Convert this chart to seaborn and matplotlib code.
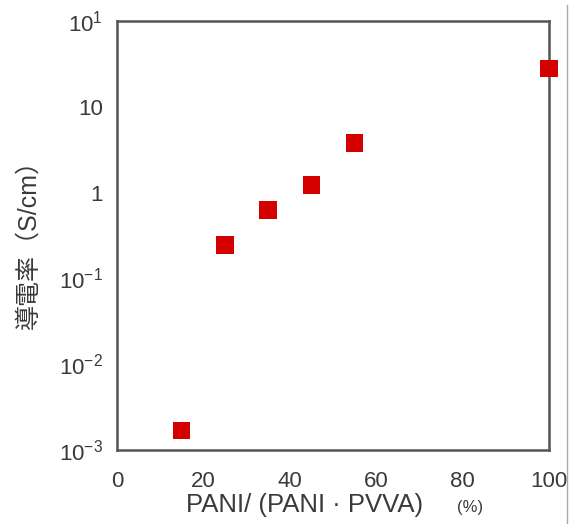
import matplotlib
matplotlib.use("Agg")
import matplotlib.pyplot as plt
import seaborn as sns
import pandas as pd

# PANI content (%) and conductivity (S/cm)
pani_pct = [15, 25, 35, 45, 55, 100]
conductivity = [0.0017, 0.245, 0.63, 1.23, 3.8, 28.0]

y_ticks = [1e-3, 1e-2, 1e-1, 1, 10, 100]
y_tick_labels = [r"$10^{-3}$", r"$10^{-2}$", r"$10^{-1}$", "1", "10", r"$10^{1}$"]
x_ticks = [0, 20, 40, 60, 80, 100]

sns.set_style("white")
plt.rcParams["font.family"] = ["Liberation Sans", "Noto Sans CJK JP", "DejaVu Sans"]
plt.rcParams["mathtext.default"] = "regular"

df = pd.DataFrame({"pani": pani_pct, "sigma": conductivity})

fig = plt.figure(figsize=(5.73, 5.24), dpi=100)
ax = fig.add_axes([0.204, 0.141, 0.754, 0.819])

sns.scatterplot(data=df, x="pani", y="sigma", ax=ax, marker="s", s=160,
                color="#d40000", edgecolor="none", clip_on=False, zorder=5)

ax.set_yscale("log")
ax.set_ylim(1e-3, 1e2)
ax.set_xlim(0, 100)
ax.set_yticks(y_ticks)
ax.set_yticklabels(y_tick_labels)
ax.minorticks_off()
ax.set_xticks(x_ticks)
ax.set_xticklabels([str(t) for t in x_ticks])

for sp in ax.spines.values():
    sp.set_color("#555555")
    sp.set_linewidth(1.8)

ax.tick_params(axis="both", direction="in", length=8, width=1.2, color="#555555",
               labelsize=16, labelcolor="#3a3a3a")
ax.tick_params(axis="x", pad=15)
ax.tick_params(axis="y", pad=10)

ax.set_xlabel("")
ax.set_ylabel("")
fig.text(0.532, 0.036, "PANI/ (PANI · PVVA)", fontsize=18.5, color="#3a3a3a",
         ha="center", va="center")
fig.text(0.82, 0.032, "(%)", fontsize=12, color="#3a3a3a", ha="center", va="center")
fig.text(0.049, 0.545, "導電率（S/cm）", fontsize=18, color="#3a3a3a",
         rotation=90, ha="center", va="center")

# thin frame line at the right edge
fig.add_artist(plt.Line2D([0.99, 0.99], [0.0, 0.99], color="#aaaaaa", lw=1,
                          transform=fig.transFigure))

fig.savefig("out.png", dpi=100)
